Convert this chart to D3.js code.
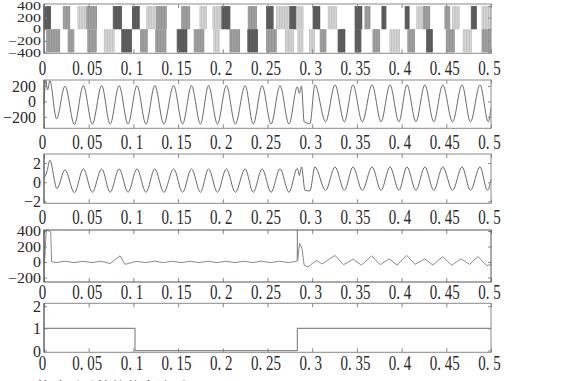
<!DOCTYPE html>
<html>
<head>
<meta charset="utf-8">
<script src="https://cdn.jsdelivr.net/npm/d3@7"></script>
<style>
body { margin: 0; background: #fff; }
svg { display: block; }
.axis text { font-family: "Liberation Serif", "DejaVu Serif", serif; fill: #2a2a2a; }
.axis line { stroke: #888; }
</style>
</head>
<body>
<svg id="chart" width="587" height="381"></svg>
<script>
// x axis shared by all five traces (time, s)
var xTicks = [0, 0.05, 0.1, 0.15, 0.2, 0.25, 0.3, 0.35, 0.4, 0.45, 0.5];
var xTickLabels = ["0", "0. 05", "0. 1", "0. 15", "0. 2", "0. 25", "0. 3", "0. 35", "0. 4", "0. 45", "0. 5"];

// y ticks per panel
var pwmTicks = [400, 200, 0, -200, -400];
var pwmTickLabels = ["400", "200", "0", "\u2212200", "\u2212400"];
var voltTicks = [200, 0, -200];
var voltTickLabels = ["200", "0", "\u2212200"];
var curTicks = [2, 0, -2];
var curTickLabels = ["2", "0", "\u22122"];
var powTicks = [400, 200, 0, -200];
var powTickLabels = ["400", "200", "0", "\u2212200"];
var flagTicks = [2, 1, 0];
var flagTickLabels = ["2", "1", "0"];

// panel 1: PWM pulses [start, end, shade] (shade 0 dark, 1 mid, 2 light)
var pwmPos = [
  [0.000, 0.0075, 0], [0.0216, 0.029, 1], [0.038, 0.048, 2], [0.048, 0.059, 1],
  [0.0775, 0.087, 0], [0.099, 0.107, 0], [0.115, 0.126, 2], [0.126, 0.137, 1],
  [0.154, 0.163, 1], [0.1745, 0.182, 2], [0.189, 0.199, 2], [0.199, 0.208, 0],
  [0.2285, 0.238, 1], [0.249, 0.2565, 0], [0.26, 0.275, 2], [0.275, 0.2825, 0],
  [0.2825, 0.29, 2], [0.301, 0.309, 0], [0.318, 0.328, 2], [0.348, 0.356, 0],
  [0.359, 0.365, 1], [0.378, 0.383, 0], [0.404, 0.409, 0], [0.417, 0.4225, 2],
  [0.424, 0.432, 1], [0.4485, 0.454, 1], [0.457, 0.465, 2], [0.478, 0.484, 0],
  [0.49, 0.499, 2]
];
var pwmNeg = [
  [0.003, 0.018, 1], [0.027, 0.034, 1], [0.049, 0.059, 1], [0.0675, 0.079, 2],
  [0.087, 0.098, 0], [0.108, 0.116, 1], [0.125, 0.137, 1], [0.149, 0.16, 0],
  [0.168, 0.179, 1], [0.19, 0.197, 2], [0.208, 0.219, 1], [0.228, 0.239, 0],
  [0.249, 0.26, 1], [0.27, 0.279, 2], [0.284, 0.29, 2], [0.297, 0.303, 2],
  [0.309, 0.316, 1], [0.329, 0.337, 0], [0.348, 0.355, 0], [0.368, 0.376, 1],
  [0.387, 0.398, 2], [0.407, 0.415, 1], [0.428, 0.435, 0], [0.45, 0.459, 1],
  [0.469, 0.478, 2], [0.49, 0.5, 1]
];
var pwmLevel = 400;

// panel 2: voltage, turning points
var voltT = [0, 0.002, 0.004, 0.0065, 0.014, 0.0235, 0.034, 0.044, 0.054, 0.0645,
  0.074, 0.084, 0.094, 0.104, 0.114, 0.124, 0.134, 0.145, 0.155, 0.165,
  0.175, 0.184, 0.194, 0.204, 0.214, 0.225, 0.234, 0.244, 0.254, 0.264,
  0.274, 0.2834, 0.2856, 0.288, 0.291, 0.2975, 0.303, 0.315, 0.3255, 0.336,
  0.3456, 0.356, 0.367, 0.377, 0.387, 0.397, 0.406, 0.416, 0.426, 0.436,
  0.446, 0.457, 0.4676, 0.477, 0.4877, 0.497, 0.5];
var voltV = [-30, 279, 150, 270, -225, 200, -300, 205, -295, 205,
  -295, 205, -295, 205, -295, 205, -295, 205, -295, 205,
  -295, 205, -295, 205, -295, 205, -295, 205, -295, 205,
  -295, 190, 105, 200, -265, -290, 215, -265, 215, -265,
  215, -265, 215, -265, 215, -265, 215, -265, 215, -265,
  215, -265, 215, -265, 215, -265, -80];

// panel 3: current, turning points
var curT = [0, 0.0035, 0.0065, 0.0145, 0.0235, 0.034, 0.044, 0.054, 0.0645,
  0.074, 0.084, 0.094, 0.104, 0.114, 0.124, 0.134, 0.145, 0.155, 0.165,
  0.175, 0.184, 0.194, 0.204, 0.214, 0.225, 0.234, 0.244, 0.254, 0.264,
  0.274, 0.2834, 0.2856, 0.288, 0.292, 0.2975, 0.303, 0.315, 0.3255, 0.336,
  0.3456, 0.356, 0.367, 0.377, 0.387, 0.397, 0.406, 0.416, 0.426, 0.436,
  0.446, 0.457, 0.4676, 0.477, 0.4877, 0.496, 0.5];
var curV = [0.4, 1.2, 2.3, -0.65, 1.3, -1.1, 1.4, -1.05, 1.4,
  -1.05, 1.4, -1.05, 1.4, -1.05, 1.4, -1.05, 1.4, -1.05, 1.4,
  -1.05, 1.4, -1.05, 1.4, -1.05, 1.4, -1.05, 1.4, -1.05, 1.4,
  -1.05, 1.45, 0.7, 1.6, -0.85, -0.9, 1.6, -0.85, 1.6, -0.85,
  1.6, -0.85, 1.6, -0.85, 1.6, -0.85, 1.6, -0.85, 1.6, -0.85,
  1.6, -0.85, 1.6, -0.85, 1.6, -0.85, 0.3];

// panel 4: power, turning points
var powT = [0, 0.001, 0.0025, 0.0065, 0.0075, 0.0085, 0.0135, 0.0235, 0.0335, 0.0435,
  0.0535, 0.0635, 0.074, 0.085, 0.0905, 0.1035, 0.1135, 0.1235, 0.1335, 0.1435,
  0.1535, 0.1635, 0.1735, 0.1835, 0.1935, 0.2035, 0.2135, 0.2235, 0.2335, 0.2435,
  0.2535, 0.2635, 0.2735, 0.2832, 0.2834, 0.2838, 0.2858, 0.2872, 0.2885, 0.291,
  0.2953, 0.300, 0.305, 0.311, 0.3255, 0.335, 0.346, 0.355, 0.3665, 0.376,
  0.386, 0.395, 0.4057, 0.415, 0.426, 0.435, 0.446, 0.456, 0.4665, 0.476,
  0.4855, 0.495, 0.5];
var powV = [0, 60, 413, 395, 390, 5, -8, 10, -8, 10,
  -8, 10, -20, 80, -30, 8, -8, 10, -8, 10,
  -8, 10, -8, 10, -8, 10, -8, 10, -8, 10,
  -8, 10, -8, 10, 413, 20, 245, 210, 180, -40,
  -65, -20, 20, -25, 85, -35, 35, -40, 80, -35,
  40, -40, 85, -30, 40, -40, 70, -40, 40, -30,
  70, -45, -35];

// panel 5: fault flag (step)
var flagT = [0, 0.1018, 0.1018, 0.2834, 0.2834, 0.5];
var flagV = [1, 1, 0, 0, 1, 1];

// ------------------------------------------------------------------
var svg = d3.select("#chart");
svg.append("rect").attr("width", 587).attr("height", 381).attr("fill", "#fff");

var x = d3.scaleLinear().domain([0, 0.5]).range([44, 491]);
var shadeColor = ["#555", "#8e8e8e", "#bcbcbc"];

function makePanel(top, bottom, domain, ticks, labels, labelRight, xlabOff, ylabScale) {
  var y = d3.scaleLinear().domain(domain).range([bottom, top]);
  var g = svg.append("g");
  g.append("g").attr("class", "marks");

  var bx = g.append("g").attr("class", "axis")
    .attr("transform", "translate(0," + bottom + ")")
    .call(d3.axisBottom(x).tickValues(xTicks)
      .tickFormat(function(d, i) { return xTickLabels[i]; })
      .tickSizeInner(-4).tickSizeOuter(0));
  bx.select(".domain").remove();
  bx.selectAll("text")
    .attr("y", null).attr("dy", null)
    .attr("dominant-baseline", "central")
    .attr("transform", "translate(-2," + xlabOff + ") scale(1,1.35)")
    .style("font-size", "15px");

  var tx = g.append("g").attr("class", "axis")
    .attr("transform", "translate(0," + top + ")")
    .call(d3.axisTop(x).tickValues(xTicks).tickFormat("").tickSizeInner(-4).tickSizeOuter(0));
  tx.select(".domain").remove();

  var ly = g.append("g").attr("class", "axis")
    .attr("transform", "translate(44,0)")
    .call(d3.axisLeft(y).tickValues(ticks)
      .tickFormat(function(d, i) { return labels[i]; })
      .tickSizeInner(-3).tickSizeOuter(0));
  ly.select(".domain").remove();
  ly.selectAll("text")
    .attr("x", null).attr("dy", null)
    .attr("dominant-baseline", "central")
    .attr("transform", "translate(" + (labelRight - 44) + ",0) scale(1," + ylabScale + ")")
    .style("font-size", "16px");

  var ry = g.append("g").attr("class", "axis")
    .attr("transform", "translate(491,0)")
    .call(d3.axisRight(y).tickValues(ticks).tickFormat("").tickSizeInner(-3).tickSizeOuter(0));
  ry.select(".domain").remove();

  return { g: g, y: y, top: top, bottom: bottom };
}

function drawBox(p, color) {
  p.g.append("rect")
    .attr("x", 44).attr("y", p.top)
    .attr("width", 447).attr("height", p.bottom - p.top)
    .attr("fill", "none").attr("stroke", color).attr("stroke-width", 1);
  // left edge reads darker in the reference
  p.g.append("line")
    .attr("x1", 44).attr("x2", 44).attr("y1", p.top).attr("y2", p.bottom)
    .attr("stroke", "#555").attr("stroke-width", 1);
}

function trace(p, ts, vs, color, width, curve) {
  var pts = ts.map(function(t, i) { return [t, vs[i]]; });
  var line = d3.line()
    .x(function(d) { return x(d[0]); })
    .y(function(d) { return p.y(d[1]); })
    .curve(curve);
  p.g.select(".marks").append("path")
    .datum(pts)
    .attr("d", line)
    .attr("fill", "none")
    .attr("stroke", color)
    .attr("stroke-width", width)
    .attr("stroke-linejoin", "round");
}

// panel 1: inverter output voltage (PWM), each pulse group drawn as hatched strokes
var p1 = makePanel(4, 53.3, [-416, 436], pwmTicks, pwmTickLabels, 41, 14.5, 0.72);
function pulses(list, sign) {
  var y0 = p1.y(0), y1 = p1.y(sign * pwmLevel);
  var grp = p1.g.select(".marks").selectAll(null)
    .data(list)
    .enter().append("g");
  grp.append("rect")
    .attr("x", function(d) { return x(d[0]); })
    .attr("width", function(d) { return Math.max(1, x(d[1]) - x(d[0])); })
    .attr("y", Math.min(y0, y1))
    .attr("height", Math.abs(y1 - y0))
    .attr("fill", function(d) { return d3.color(shadeColor[d[2]]).brighter(0.5); });
  grp.each(function(d) {
    var g = d3.select(this);
    for (var px = x(d[0]); px <= x(d[1]); px += 1.6) {
      g.append("line")
        .attr("x1", px).attr("x2", px)
        .attr("y1", y0).attr("y2", y1)
        .attr("stroke", shadeColor[d[2]])
        .attr("stroke-width", 0.9);
    }
  });
}
pulses(pwmPos, 1);
pulses(pwmNeg, -1);
drawBox(p1, "#8a8a8a");

// panel 2: voltage
var p2 = makePanel(80, 128.3, [-350, 279], voltTicks, voltTickLabels, 36, 13.5, 1);
trace(p2, voltT, voltV, "#6a6a6a", 1, d3.curveMonotoneX);
drawBox(p2, "#8a8a8a");

// panel 3: current
var p3 = makePanel(154, 203.3, [-2.2, 2.95], curTicks, curTickLabels, 41, 14, 1);
trace(p3, curT, curV, "#6a6a6a", 1, d3.curveMonotoneX);
drawBox(p3, "#8a8a8a");

// panel 4: power
var p4 = makePanel(230, 282, [-258, 413], powTicks, powTickLabels, 41, 10.5, 0.85);
trace(p4, powT, powV, "#8a8a8a", 1, d3.curveLinear);
drawBox(p4, "#555");

// panel 5: fault flag
var p5 = makePanel(303.3, 352.3, [-0.08, 2.13], flagTicks, flagTickLabels, 41, 10.5, 1);
trace(p5, flagT, flagV, "#8a8a8a", 1.2, d3.curveLinear);
drawBox(p5, "#8a8a8a");

// caption, cut off by the bottom edge of the picture
svg.append("text")
  .attr("x", 6).attr("y", 393)
  .style("font-family", "'Noto Sans CJK SC', sans-serif")
  .style("font-size", "15px")
  .attr("fill", "#333")
  .text("图 4  故障时系统的仿真波形");
</script>
</body>
</html>
